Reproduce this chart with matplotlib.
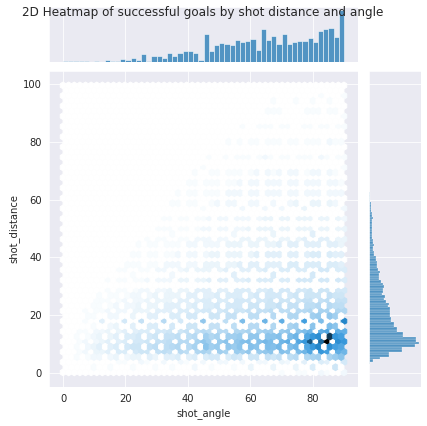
import numpy as np
import pandas as pd
import matplotlib
matplotlib.use("Agg")
import matplotlib.pyplot as plt
import matplotlib.colors as mcolors
import seaborn as sns

sns.set_style("darkgrid")

title = "2D Heatmap of successful goals by shot distance and angle"
x_label = "shot_angle"
y_label = "shot_distance"

# top marginal: histogram of shot_angle (54 bins, 0..90)
angle_bin_start = 0.0
angle_bin_end = 90.0
angle_counts = [2, 2, 2, 2, 6, 0, 6, 0, 10, 6, 2, 16, 8, 22, 12, 42, 2, 30,
                30, 24, 48, 30, 48, 64, 64, 50, 12, 162, 60, 96, 108, 102, 96,
                126, 114, 120, 132, 70, 186, 126, 150, 102, 162, 102, 114, 118,
                118, 136, 114, 174, 190, 196, 144, 300]

# right marginal: histogram of shot_distance
dist_bin_start = 2.3
dist_bin_width = 0.85
dist_counts = [7, 13, 40, 113, 200, 200, 330, 330, 460, 490, 470, 470, 340,
               340, 280, 280, 253, 247, 223, 217, 210, 210, 210, 207, 193, 200,
               167, 147, 160, 130, 140, 140, 147,
               140, 120, 103, 100, 100, 107, 90, 80, 77, 77, 73, 70, 57, 57,
               47, 47, 57, 43, 40, 37, 37, 33, 30, 30, 30, 30, 30, 40, 33, 33,
               27, 27, 23, 20, 17, 15, 13, 10, 7, 5, 4, 3, 3, 2]

# joint: goal counts per (angle, distance) cell; angles 0..90 every 2.5
grid_angles = [0, 2.5, 5, 7.5, 10, 12.5, 15, 17.5, 20, 22.5, 25, 27.5, 30,
               32.5, 35, 37.5, 40, 42.5, 45, 47.5, 50, 52.5, 55, 57.5, 60,
               62.5, 65, 67.5, 70, 72.5, 75, 77.5, 80, 82.5, 85, 87.5, 90]
grid_dists = [1, 3, 5, 7, 9, 11, 13, 15, 17, 19, 21, 23, 25, 27, 29, 32, 35,
              38, 41, 44, 47, 50, 54, 58, 62, 66, 70, 75, 80, 85, 90, 95, 99]
grid_counts = [
    [0,0,0,0,0, 0,0,0,0,0, 0,0,0,0,0, 0,0,0,0,0, 0,0,0,0,0, 0,0,0,1,0, 1,1,1,2,1, 2,2],
    [0,0,0,0,1, 0,1,1,1,1, 2,1,1,2,1, 2,1,2,2,1, 2,2,1,2,3, 2,2,3,3,2, 3,4,4,5,4, 5,6],
    [0,0,1,1,2, 2,2,3,2,3, 3,4,3,4,4, 5,4,5,5,6, 6,5,7,6,7, 7,8,7,8,9, 10,11,12,13,12, 14,16],
    [0,0,1,2,3, 3,4,5,5,6, 7,7,8,9,8, 10,9,11,12,11, 13,12,14,13,15, 14,15,16,17,16, 18,20,24,28,26, 22,20],
    [0,0,1,2,3, 4,4,5,6,7, 7,8,9,9,10, 11,10,12,16,13, 14,15,14,16,17, 16,18,17,19,18, 20,24,28,32,30, 26,24],
    [0,0,1,2,2, 3,4,4,5,6, 6,7,8,8,9, 10,10,12,15,13, 14,16,15,17,18, 17,19,18,20,22, 24,28,42,38,60, 30,28],
    [0,0,1,1,2, 3,3,4,5,5, 6,6,7,8,8, 9,9,10,13,11, 12,13,13,14,15, 15,16,16,17,18, 20,24,28,30,48, 28,26],
    [0,0,1,1,2, 2,3,3,4,4, 5,5,6,6,7, 7,8,8,10,9, 10,10,11,11,12, 12,13,13,14,15, 16,18,20,22,24, 22,22],
    [0,0,0,1,1, 2,2,3,3,4, 4,5,5,5,6, 6,7,7,8,8, 8,9,9,10,10, 10,11,11,12,12, 13,14,16,18,18, 16,18],
    [0,0,0,1,1, 2,2,2,3,3, 4,4,4,5,5, 5,6,6,7,7, 7,8,8,8,9, 9,9,10,10,11, 11,12,13,14,15, 13,14],
    [0,0,0,1,1, 1,2,2,2,3, 3,3,4,4,4, 5,5,5,6,6, 6,7,7,7,8, 8,8,9,9,9, 10,10,11,12,12, 11,11],
    [0,0,0,0,1, 1,1,2,2,2, 3,3,3,4,4, 4,4,5,5,5, 6,6,6,6,7, 7,7,7,8,8, 8,9,9,10,10, 9,9],
    [0,0,0,0,1, 1,1,1,2,2, 2,3,3,3,3, 4,4,4,5,5, 5,5,6,6,6, 6,6,7,7,7, 7,8,8,8,9, 8,8],
    [0,0,0,0,0, 1,1,1,1,2, 2,2,3,3,3, 3,4,4,4,4, 5,5,5,5,5, 6,6,6,6,6, 7,7,7,7,8, 7,7],
    [0,0,0,0,0, 0,1,1,1,1, 2,2,2,2,3, 3,3,4,4,4, 4,4,5,5,5, 5,5,6,6,6, 6,6,7,7,7, 6,6],
    [0,0,0,0,0, 0,1,1,1,1, 1,2,2,2,2, 3,3,3,3,4, 4,4,4,4,5, 5,5,5,5,5, 6,6,6,6,6, 6,5],
    [0,0,0,0,0, 0,0,1,1,1, 1,1,2,2,2, 2,3,3,3,3, 3,4,4,4,4, 4,5,5,5,5, 5,5,6,6,6, 5,5],
    [0,0,0,0,0, 0,0,0,1,1, 1,1,1,2,2, 2,2,2,3,3, 3,3,3,4,4, 4,4,4,4,5, 5,5,5,5,5, 5,4],
    [0,0,0,0,0, 0,0,0,0,1, 1,1,1,1,1, 2,2,2,2,3, 3,3,3,3,3, 4,4,4,4,4, 4,4,5,5,5, 4,4],
    [0,0,0,0,0, 0,0,0,0,0, 1,1,1,1,1, 1,2,2,2,2, 2,3,3,3,3, 3,3,3,4,4, 4,4,4,4,4, 4,3],
    [0,0,0,0,0, 0,0,0,0,0, 0,1,1,1,1, 1,1,2,2,2, 2,2,2,3,3, 3,3,3,3,3, 3,4,4,4,4, 3,3],
    [0,0,0,0,0, 0,0,0,0,0, 0,0,1,1,1, 1,1,1,2,2, 2,2,2,2,3, 3,3,3,3,3, 3,3,3,3,3, 3,3],
    [0,0,0,0,0, 0,0,0,0,0, 0,0,0,1,1, 1,1,1,1,2, 2,2,2,2,2, 2,3,3,3,3, 3,3,3,3,3, 3,2],
    [0,0,0,0,0, 0,0,0,0,0, 0,0,0,0,1, 1,1,1,1,1, 2,2,2,2,2, 2,2,2,2,2, 3,3,3,3,3, 2,2],
    [0,0,0,0,0, 0,0,0,0,0, 0,0,0,0,0, 1,1,1,1,1, 1,2,2,2,2, 2,2,2,2,2, 2,2,2,2,2, 2,2],
    [0,0,0,0,0, 0,0,0,0,0, 0,0,0,0,0, 0,1,1,1,1, 1,1,1,2,2, 2,2,2,2,2, 2,2,2,2,2, 2,1],
    [0,0,0,0,0, 0,0,0,0,0, 0,0,0,0,0, 0,0,1,1,1, 1,1,1,1,1, 2,2,1,2,2, 2,1,2,2,2, 1,1],
    [0,0,0,0,0, 0,0,0,0,0, 0,0,0,0,0, 0,0,0,0,1, 0,1,1,1,1, 1,2,1,1,1, 1,1,1,2,1, 1,1],
    [0,0,0,0,0, 0,0,0,0,0, 0,0,0,0,0, 0,0,0,0,0, 0,1,0,1,1, 1,1,1,1,1, 1,1,1,1,2, 1,1],
    [0,0,0,0,0, 0,0,0,0,0, 0,0,0,0,0, 0,0,0,0,0, 0,0,0,1,0, 1,1,1,1,1, 0,1,1,1,1, 1,1],
    [0,0,0,0,0, 0,0,0,0,0, 0,0,0,0,0, 0,0,0,0,0, 0,0,0,0,0, 0,1,1,1,0, 0,1,1,1,1, 1,1],
    [0,0,0,0,0, 0,0,0,0,0, 0,0,0,0,0, 0,0,0,0,0, 0,0,0,0,0, 0,0,1,0,0, 1,0,1,1,1, 0,1],
    [0,0,0,0,0, 0,0,0,0,0, 0,0,0,0,0, 0,0,0,0,0, 0,0,0,0,0, 0,0,0,0,0, 0,0,0,0,0, 0,0],
]
angle_range = (0.0, 90.0)
dist_range = (0.26, 99.5)

# ---------------------------------------------------------------
blue = "#1f77b4"
rgb = mcolors.to_rgb(blue)
cmap = sns.blend_palette(
    [sns.utils.set_hls_values(rgb, l=l) for l in np.linspace(1, 0, 12)],
    as_cmap=True)

W, H = 427, 426
fig = plt.figure(figsize=(W / 72, H / 72), dpi=72)


def box(l, t, r, b):
    return [l / W, 1 - b / H, (r - l) / W, (b - t) / H]


ax_joint = fig.add_axes(box(49, 71, 358, 386.7))
ax_mx = fig.add_axes(box(49, 7, 358, 61.7), sharex=ax_joint)
ax_my = fig.add_axes(box(368.7, 71, 421, 386.7), sharey=ax_joint)

A, D = np.meshgrid(grid_angles, grid_dists)
C = np.array(grid_counts, dtype=float)
ax_joint.hexbin(A.ravel(), D.ravel(), C=C.ravel(), reduce_C_function=np.sum,
                gridsize=50, mincnt=0,
                extent=(angle_range[0], angle_range[1], dist_range[0], dist_range[1]),
                cmap=cmap, vmin=0)

angle_edges = np.linspace(angle_bin_start, angle_bin_end, len(angle_counts) + 1)
angle_df = pd.DataFrame({
    "angle": (angle_edges[:-1] + angle_edges[1:]) / 2,
    "count": angle_counts,
})
sns.histplot(data=angle_df, x="angle", weights="count",
             bins=list(angle_edges), ax=ax_mx, color=blue)

dist_edges = dist_bin_start + dist_bin_width * np.arange(len(dist_counts) + 1)
dist_df = pd.DataFrame({
    "dist": (dist_edges[:-1] + dist_edges[1:]) / 2,
    "count": dist_counts,
})
sns.histplot(data=dist_df, y="dist", weights="count",
             bins=list(dist_edges), ax=ax_my, color=blue)

for ax in (ax_mx, ax_my):
    ax.set_xlabel("")
    ax.set_ylabel("")
ax_mx.tick_params(labelbottom=False, labelleft=False, left=False)
ax_mx.yaxis.grid(False)
ax_my.tick_params(labelleft=False, labelbottom=False, bottom=False)
ax_my.xaxis.grid(False)

ax_joint.set_xlim(-4.5, 94.5)
ax_joint.set_ylim(-4.7, 104.5)
ax_joint.set_xlabel(x_label)
ax_joint.set_ylabel(y_label)

fig.text(203 / W, 1 - 12.7 / H, title, ha="center", va="center", fontsize=12)

fig.savefig("out.png", dpi=72)
